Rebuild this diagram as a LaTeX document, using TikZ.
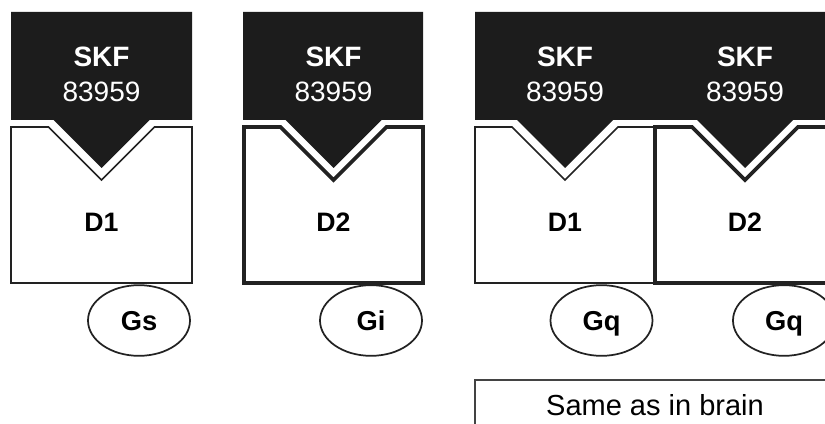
\documentclass[tikz,border=0pt]{standalone}
\usepackage{fontspec}
\setmainfont{Liberation Sans}
\usetikzlibrary{shapes.geometric}
\definecolor{inkblack}{HTML}{1C1C1C}
\definecolor{lineblack}{HTML}{222222}
\begin{document}
\begin{tikzpicture}[x=0.75pt,y=-0.75pt,
  ligand/.style={fill=inkblack, draw=none},
  thinbox/.style={draw=lineblack, line width=1.3pt, fill=white},
  thickbox/.style={draw=lineblack, line width=2.8pt, fill=white},
  druglabel/.style={text=white, anchor=base, inner sep=0pt, font=\fontsize{21}{25}\selectfont},
  drugname/.style={druglabel, font=\bfseries\fontsize{21}{25}\selectfont},
  reclabel/.style={anchor=base, inner sep=0pt, font=\bfseries\fontsize{20}{24}\selectfont},
  gprot/.style={ellipse, draw=lineblack, line width=1.3pt, fill=white, inner sep=0pt,
    minimum width=76.5pt, minimum height=53pt, text depth=0pt,
    font=\bfseries\fontsize{20.5}{24}\selectfont},
  notebox/.style={draw=lineblack!85, line width=1.3pt, fill=white},
  note/.style={anchor=base, inner sep=0pt, font=\fontsize{21.75}{26}\selectfont}]
\useasboundingbox (0,0) rectangle (825,424);
\clip (0,0) rectangle (825,424);

% receptor with a V-shaped binding pocket: \receptorbox{left}{right}{centre}{style}
\newcommand{\receptorbox}[4]{%
  \draw[#4] (#1,127) -- ({#3-53},127) -- (#3,180) -- ({#3+53},127) -- (#2,127)
    -- (#2,283) -- (#1,283) -- cycle;}

% ---- panel 1: D1 / Gs ----
\receptorbox{11}{192}{101.5}{thinbox}
\fill[ligand] (11,12) -- (192,12) -- (192,120) -- (149.5,120) -- (101.5,168)
  -- (53.5,120) -- (11,120) -- cycle;
\node[drugname] (skfA) at (101.5,66.7) {SKF};
\node[druglabel] (numA) at (101.5,101.7) {83959};
\node[reclabel] (dA) at (101.5,231.7) {D1};
\node[gprot] (gs) at (139,320.5) {Gs};

% ---- panel 2: D2 / Gi ----
\receptorbox{244}{423}{333.5}{thickbox}
\fill[ligand] (243,12) -- (423,12) -- (423,120) -- (381.5,120) -- (333.5,168)
  -- (285.5,120) -- (243,120) -- cycle;
\node[drugname] (skfB) at (333.5,66.7) {SKF};
\node[druglabel] (numB) at (333.5,101.7) {83959};
\node[reclabel] (dB) at (333.5,231.7) {D2};
\node[gprot] (gi) at (371,320.5) {Gi};

% ---- panel 3: D1-D2 heteromer / Gq ----
\receptorbox{475}{655}{565}{thinbox}
\receptorbox{655}{835}{745}{thickbox}
\fill[ligand] (475,12) -- (840,12) -- (840,120) -- (793,120) -- (745,168)
  -- (697,120) -- (613,120) -- (565,168) -- (517,120) -- (475,120) -- cycle;
\node[drugname] (skfC) at (565,66.7) {SKF};
\node[druglabel] (numC) at (565,101.7) {83959};
\node[drugname] (skfD) at (745,66.7) {SKF};
\node[druglabel] (numD) at (745,101.7) {83959};
\node[reclabel] (dC) at (565,231.7) {D1};
\node[reclabel] (dD) at (745,231.7) {D2};
\node[gprot] (gqA) at (601.5,320.5) {Gq};
\node[gprot] (gqB) at (784,320.5) {Gq};

% ---- note ----
\draw[notebox] (475,380) rectangle (835,450);
\node[note] (same) at (655,415) {Same as in brain};
\end{tikzpicture}
\end{document}
